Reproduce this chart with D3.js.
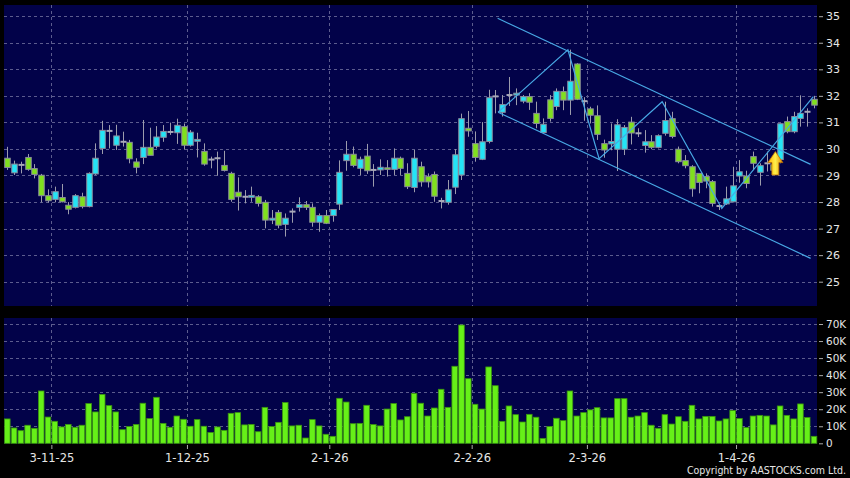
<!DOCTYPE html>
<html><head><meta charset="utf-8">
<script src="https://cdn.jsdelivr.net/npm/d3@7"></script>
<style>
html,body{margin:0;padding:0;background:#000;}
svg{display:block;}
text{font-family:"DejaVu Sans",sans-serif;}
</style></head>
<body>
<svg id="c" width="850" height="478"></svg>
<script>
// ---- data ----
const open  = [29.65,29.10,29.40,29.68,29.26,29.01,28.24,28.10,28.17,27.88,27.80,28.20,27.83,29.06,30.02,30.68,30.14,30.27,30.25,29.51,
29.68,30.06,30.10,30.44,30.60,30.61,30.84,30.14,30.29,29.91,29.60,29.63,29.38,29.08,28.37,28.20,28.18,28.20,27.99,27.32,
27.61,27.16,27.60,27.80,27.90,27.80,27.24,27.49,27.49,27.92,29.56,29.80,29.27,29.73,29.21,29.21,29.29,29.23,29.65,29.08,
28.55,29.33,28.97,29.04,28.04,27.99,28.56,29.02,30.78,30.20,29.61,30.28,31.98,31.38,32.03,32.03,31.80,31.97,31.34,30.62,
31.85,31.60,32.16,31.84,33.20,31.80,31.51,31.25,30.20,30.19,29.99,29.99,31.01,30.59,30.13,30.27,30.06,30.59,31.14,29.99,
29.56,29.33,29.08,28.96,28.77,27.85,27.93,28.01,28.98,28.98,29.71,29.12,29.46,29.40,29.60,31.03,30.65,31.15,31.38,31.87];
const high  = [30.08,29.56,29.52,29.81,29.43,29.06,28.48,28.58,28.68,28.00,28.30,28.35,29.12,30.21,31.06,30.90,30.91,30.65,30.34,29.65,
31.09,30.80,30.86,30.90,30.99,31.14,30.96,30.71,30.61,30.21,29.71,29.90,29.93,29.14,28.93,28.45,28.58,28.26,28.08,27.70,
27.70,27.57,27.76,28.18,28.04,27.95,27.57,27.70,27.72,29.57,30.30,30.09,29.71,30.19,29.43,29.61,29.58,30.02,29.71,29.46,
29.96,29.52,29.08,29.15,28.16,28.83,29.99,31.33,31.43,30.66,31.01,32.23,32.22,32.03,32.71,32.28,32.03,32.10,31.78,31.15,
32.03,32.28,32.35,33.74,33.23,31.95,31.59,31.64,30.35,30.96,31.12,30.90,31.21,30.78,30.71,30.52,30.55,31.78,31.40,30.09,
29.77,29.39,29.08,29.08,28.83,27.93,28.58,29.33,29.58,29.18,29.90,29.46,29.90,29.55,30.96,31.22,31.40,32.02,31.53,32.00];
const low   = [29.21,29.02,29.08,29.18,28.89,27.99,27.98,27.99,27.99,27.54,27.76,27.76,27.80,29.02,29.81,30.02,29.96,30.09,29.46,29.08,
29.43,29.76,30.02,30.27,30.53,30.19,29.99,30.09,29.68,29.37,29.27,28.99,29.15,28.01,27.68,27.95,28.01,27.83,27.01,27.17,
27.01,26.70,27.22,27.64,27.70,27.07,26.88,27.17,27.26,27.70,29.18,29.31,29.02,29.06,28.58,29.02,28.96,29.02,29.02,28.49,
28.37,28.58,28.55,28.01,27.76,27.90,28.30,28.83,30.46,29.52,29.58,30.21,31.34,31.22,31.62,31.65,31.72,31.47,30.78,30.59,
31.03,31.46,31.46,31.28,31.84,31.06,30.96,30.34,29.67,29.95,29.17,29.77,30.17,30.45,29.86,29.99,30.02,30.50,30.40,29.46,
29.27,28.20,28.33,28.52,27.83,27.70,27.89,27.99,28.73,28.52,29.20,28.62,29.15,29.05,29.46,30.59,30.59,30.84,30.84,31.53];
const close = [29.30,29.43,29.40,29.23,29.04,28.24,28.05,28.39,28.01,27.73,28.24,27.83,29.08,29.65,30.70,30.68,30.49,30.27,29.63,29.31,
30.06,29.76,30.45,30.66,30.64,30.89,30.14,30.63,30.36,29.43,29.60,29.65,29.19,28.10,28.20,28.20,28.25,27.95,27.32,27.39,
27.13,27.39,27.64,27.90,27.80,27.24,27.49,27.20,27.72,29.12,29.80,29.38,29.61,29.18,29.21,29.31,29.23,29.65,29.27,28.58,
29.65,28.76,28.76,28.22,28.04,28.46,29.78,31.14,30.68,29.68,30.27,31.93,31.98,31.67,32.03,32.10,31.97,31.76,30.96,30.93,
31.15,32.17,31.84,32.55,31.87,31.80,31.27,30.55,29.96,30.28,30.91,30.81,30.60,30.59,30.27,30.06,30.50,31.07,30.47,29.52,
29.37,28.50,28.74,28.79,27.95,27.85,28.12,28.61,29.14,28.70,29.46,29.37,29.46,29.20,30.95,30.65,31.22,31.34,31.40,31.65];
const volumeK = [14.3,9.0,7.4,10.6,8.8,30.7,15.4,12.9,9.6,11.1, 9.4,10.6,23.3,18.4,28.7,22.1,18.4,8.0,9.8,11.1,
23.5,14.5,27.0,11.7,9.4,16.0,14.1,10.0,13.9,10.0, 6.3,9.6,7.6,17.6,18.0,10.8,11.1,6.8,21.1,9.8,
12.3,23.9,10.2,10.6,3.1,13.9,10.2,5.3,4.1,26.4, 24.2,11.5,11.7,22.3,11.0,10.2,20.1,23.3,13.7,15.6,
29.3,23.5,16.0,20.7,31.7,21.1,45.2,69.4,37.9,22.9, 20.1,44.8,33.8,12.9,21.9,16.8,12.5,17.0,15.3,2.9,
9.8,14.7,13.3,30.7,16.0,18.0,19.6,20.9,14.9,14.9, 26.2,26.2,15.3,16.0,18.0,10.6,8.8,16.8,11.3,15.6,
12.9,22.3,14.3,15.8,15.8,13.1,14.3,19.2,14.5,9.2, 16.0,16.4,16.0,10.8,21.9,16.4,14.3,23.1,15.1,4.1];
const dateLabels = ["3-11-25","1-12-25","2-1-26","2-2-26","2-3-26","1-4-26"];
const dateIndex  = [6.5, 26.5, 47.5, 68.5, 85.5, 107.5];
const priceTicks = [25,26,27,28,29,30,31,32,33,34,35];
const volumeTicks = [0,10,20,30,40,50,60,70];
// trend annotations: [candle index, price]
const channelUpper = [[72.33,34.92],[118.5,29.42]];
const channelLower = [[72.4,31.38],[118.5,25.88]];
const zigzag = [[72.4,31.38],[82.7,33.73],[87.3,29.63],[96.6,31.78],[105.4,27.76],[118.9,31.97]];
const arrowMark = {index:113.3, top:29.9, bottom:29.02};

// ---- layout ----
const svg = d3.select("#c");
const P = {l:4, r:817, t:5, b:306};
const V = {t:318, b:443.5};
const N = close.length;
const xS = d3.scaleLinear().domain([0, N-1]).range([7.3, 814]);
const yS = d3.scaleLinear().domain([25, 35]).range([281.7, 16.2]);
const vS = d3.scaleLinear().domain([0, 70]).range([443.3, 324]);

svg.append("rect").attr("width",850).attr("height",478).attr("fill","#000");
const navy = "#020249";
svg.append("rect").attr("x",P.l).attr("y",P.t).attr("width",P.r-P.l).attr("height",P.b-P.t).attr("fill",navy);
svg.append("rect").attr("x",P.l).attr("y",V.t).attr("width",P.r-P.l).attr("height",V.b-V.t).attr("fill",navy);

const gridCol = "#5c5c8e";
const grid = svg.append("g").attr("stroke",gridCol).attr("stroke-dasharray","3,3").attr("stroke-width",1);
priceTicks.forEach(t=>{
  const y = Math.round(yS(t))+0.5;
  grid.append("line").attr("x1",P.l).attr("x2",P.r).attr("y1",y).attr("y2",y);
});
volumeTicks.filter(t=>t>0).forEach(t=>{
  const y = Math.round(vS(t))+0.5;
  grid.append("line").attr("x1",P.l).attr("x2",P.r).attr("y1",y).attr("y2",y);
});
dateIndex.forEach(d=>{
  const x = Math.round(xS(d))+0.5;
  grid.append("line").attr("x1",x).attr("x2",x).attr("y1",P.t).attr("y2",P.b);
  grid.append("line").attr("x1",x).attr("x2",x).attr("y1",V.t).attr("y2",V.b);
});

// volume bars
const vg = svg.append("g");
volumeK.forEach((v,i)=>{
  const x = xS(i);
  vg.append("rect").attr("x",x-2.8).attr("width",5.6)
    .attr("y",vS(v)).attr("height",vS(0)-vS(v))
    .attr("fill","#66f018").attr("stroke","#3a9410").attr("stroke-width",0.8);
});

// candles
const cg = svg.append("g");
const wickCol = "#9c9cac";
for (let i=0;i<N;i++){
  const x = Math.round(xS(i))+0.5;
  cg.append("line").attr("x1",x).attr("x2",x).attr("y1",yS(high[i])).attr("y2",yS(low[i]))
    .attr("stroke",wickCol).attr("stroke-width",1);
  const o=open[i], c=close[i];
  if (Math.abs(c-o) < 0.04){
    cg.append("line").attr("x1",x-3).attr("x2",x+3).attr("y1",yS(c)).attr("y2",yS(c))
      .attr("stroke","#a8a8b8").attr("stroke-width",2);
  } else {
    const top = yS(Math.max(o,c)), bot = yS(Math.min(o,c));
    cg.append("rect").attr("x",x-2.75).attr("width",5.5).attr("y",top).attr("height",Math.max(1,bot-top))
      .attr("fill", c>o ? "#24e4f6" : "#80e01e").attr("stroke","#8a8a9c").attr("stroke-width",1);
  }
}

// trend lines
const line = d3.line().x(d=>xS(d[0])).y(d=>yS(d[1]));
const tl = svg.append("g").attr("fill","none").attr("stroke","#48a8e4").attr("stroke-width",1.2);
[channelUpper, channelLower, zigzag].forEach(p=>tl.append("path").attr("d",line(p)));

// arrow marker
const defs = svg.append("defs");
const gr = defs.append("linearGradient").attr("id","ag").attr("x1","0").attr("x2","1").attr("y1","0").attr("y2","0");
gr.append("stop").attr("offset","0").attr("stop-color","#ffb000");
gr.append("stop").attr("offset","0.5").attr("stop-color","#fff04a");
gr.append("stop").attr("offset","1").attr("stop-color","#e08a00");
{
  const ax = xS(arrowMark.index), yt = yS(arrowMark.top), yb = yS(arrowMark.bottom);
  const hw = 7.5, sw = 3.5, hh = 11;
  const pts = [[ax,yt],[ax+hw,yt+hh],[ax+sw,yt+hh],[ax+sw,yb],[ax-sw,yb],[ax-sw,yt+hh],[ax-hw,yt+hh]];
  svg.append("path").attr("d","M"+pts.map(p=>p.join(",")).join("L")+"Z")
    .attr("fill","url(#ag)").attr("stroke","#c07000").attr("stroke-width",0.8);
}

// axes
const txtCol = "#e6e6e6";
const ay = svg.append("g").attr("transform","translate(819,0)")
  .call(d3.axisRight(yS).tickValues(priceTicks).tickSize(4).tickPadding(3).tickFormat(d3.format("d")));
const av = svg.append("g").attr("transform","translate(819,0)")
  .call(d3.axisRight(vS).tickValues(volumeTicks).tickSize(4).tickPadding(3).tickFormat(d=>d===0?"0":d+"K"));
const ax = svg.append("g").attr("transform","translate(0,445)")
  .call(d3.axisBottom(xS).tickValues(dateIndex).tickSize(4).tickPadding(5).tickFormat((d,i)=>dateLabels[i]));
[ay,av,ax].forEach(g=>{
  g.select(".domain").remove();
  g.selectAll(".tick line").attr("stroke","#aaaaaa");
  g.selectAll("text").attr("fill",txtCol).style("font-family","'DejaVu Sans',sans-serif");
});
ay.selectAll("text").style("font-size","11px");
av.selectAll("text").style("font-size","10.5px");
ax.selectAll("text").style("font-size","11.5px");

svg.append("text").attr("x",846).attr("y",474).attr("text-anchor","end")
  .attr("fill",txtCol).style("font-size","10.5px").style("font-stretch","condensed")
  .text("Copyright by AASTOCKS.com Ltd.");
</script>
</body></html>
